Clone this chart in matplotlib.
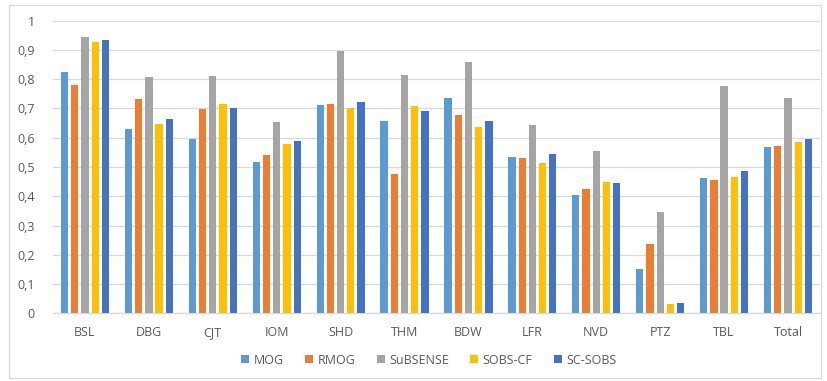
import matplotlib
matplotlib.use("Agg")
import matplotlib.pyplot as plt
import numpy as np
from matplotlib.patches import Rectangle

categories = ["BSL", "DBG", "CJT", "IOM", "SHD", "THM", "BDW", "LFR", "NVD", "PTZ", "TBL", "Total"]
series_names = ["MOG", "RMOG", "SuBSENSE", "SOBS-CF", "SC-SOBS"]
mog      = [0.824, 0.631, 0.594, 0.517, 0.713, 0.657, 0.736, 0.533, 0.405, 0.150, 0.462, 0.567]
rmog     = [0.781, 0.731, 0.697, 0.540, 0.717, 0.476, 0.679, 0.530, 0.424, 0.236, 0.455, 0.571]
subsense = [0.946, 0.808, 0.812, 0.653, 0.895, 0.814, 0.859, 0.643, 0.556, 0.345, 0.778, 0.735]
sobs_cf  = [0.928, 0.648, 0.714, 0.578, 0.703, 0.710, 0.635, 0.512, 0.448, 0.032, 0.466, 0.586]
sc_sobs  = [0.933, 0.664, 0.702, 0.590, 0.721, 0.692, 0.657, 0.545, 0.447, 0.036, 0.485, 0.594]
y_ticks = [0, 0.1, 0.2, 0.3, 0.4, 0.5, 0.6, 0.7, 0.8, 0.9, 1]
y_tick_labels = ["0", "0,1", "0,2", "0,3", "0,4", "0,5", "0,6", "0,7", "0,8", "0,9", "1"]

colors = ["#5B9BD5", "#ED7D31", "#A5A5A5", "#FFC000", "#4472C4"]
data = [mog, rmog, subsense, sobs_cf, sc_sobs]

plt.rcParams['font.family'] = ['Open Sans', 'DejaVu Sans']
text_color = "#595959"

fig = plt.figure(figsize=(8.28, 3.81), dpi=100)
fig.patch.set_facecolor("white")
ax = fig.add_axes([53/828, 67.7/381, (820-53)/828, (313.3-20.7)/381])

x = np.arange(len(categories))
step = 0.16
width = 0.114
for i, (vals, name, c) in enumerate(zip(data, series_names, colors)):
    ax.bar(x + (i - 2) * step, vals, width=width, color=c, label=name, zorder=3)

ax.set_xlim(-0.5, len(categories) - 0.5)
ax.set_ylim(0, 1)
ax.set_yticks(y_ticks)
ax.set_yticklabels(y_tick_labels)
ax.set_xticks(x)
ax.set_xticklabels(categories)
ax.tick_params(axis='both', length=0, colors=text_color, labelsize=9)
ax.tick_params(axis='y', pad=13)
ax.tick_params(axis='x', pad=9)
ax.grid(axis='y', color="#D9D9D9", linewidth=0.9, zorder=0)
ax.set_axisbelow(True)
for s in ["top", "right", "left"]:
    ax.spines[s].set_visible(False)
ax.spines["bottom"].set_color("#D9D9D9")
ax.spines["bottom"].set_linewidth(0.9)

handles, labels = ax.get_legend_handles_labels()
leg = fig.legend(handles, labels, loc='center', bbox_to_anchor=(429/828, 21/381),
                 ncol=5, frameon=False, handlelength=0.65, handleheight=0.65,
                 handletextpad=0.35, columnspacing=1.7, fontsize=9)
for t in leg.get_texts():
    t.set_color(text_color)

fig.patches.append(Rectangle((9/828, 3/381), (821-9)/828, (377-4)/381,
                             transform=fig.transFigure, fill=False,
                             edgecolor="#D9D9D9", linewidth=0.9))

fig.savefig("out.png", dpi=100, facecolor="white")
